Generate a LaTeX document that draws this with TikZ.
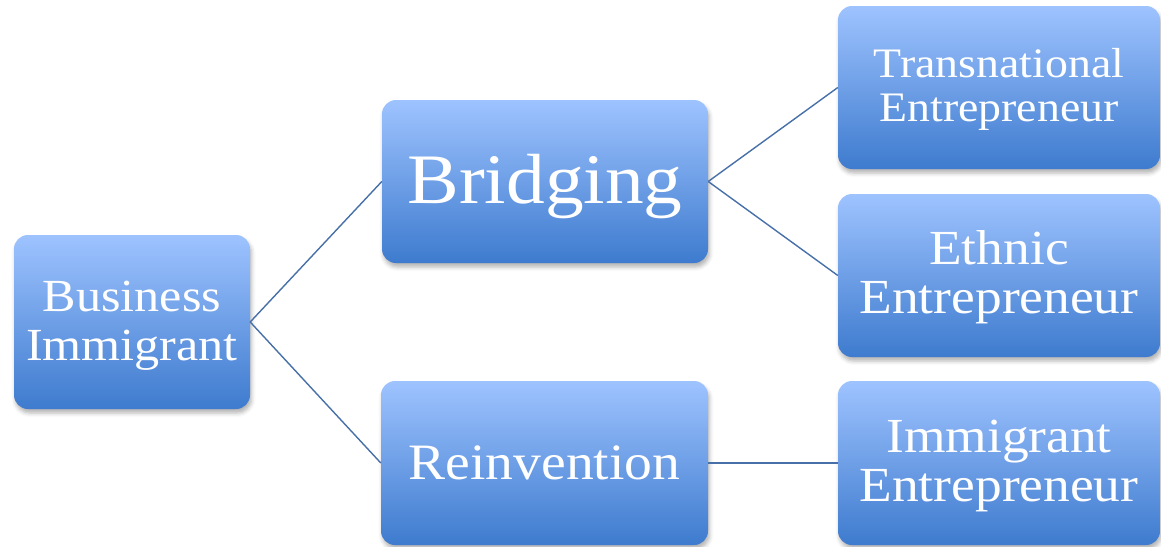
\documentclass[tikz,border=0pt]{standalone}
\usepackage{fontspec}
\setmainfont{Liberation Serif}[FakeStretch=1.09]
\usetikzlibrary{shadows.blur}
\definecolor{boxtop}{HTML}{9EC3FF}
\definecolor{boxbot}{HTML}{3E7BCE}
\definecolor{linkc}{HTML}{4770A8}
\tikzset{
  box/.style={rounded corners=14pt, top color=boxtop, bottom color=boxbot,
    draw=none, text=white, align=center, inner sep=0pt,
    blur shadow={shadow xshift=1.5pt, shadow yshift=-4pt, shadow blur radius=4pt, shadow opacity=30}},
  link/.style={draw=linkc, line width=1.4pt},
  % text height/depth are measured from the baseline of the last line
  bigtxt/.style={font=\fontsize{71}{76}\selectfont, text height=54pt, text depth=10pt},
  midtxt/.style={font=\fontsize{51}{54}\selectfont, text height=40pt, text depth=8pt},
  smalltxt/.style={font=\fontsize{42}{44.5}\selectfont, text height=78pt, text depth=10pt},
  leaftxt/.style={font=\fontsize{49}{49}\selectfont, text height=86pt, text depth=10pt},
  roottxt/.style={font=\fontsize{46}{49}\selectfont, text height=87pt, text depth=10pt},
}
\begin{document}
\begin{tikzpicture}[x=1pt,y=-1pt]
\useasboundingbox (0,0) rectangle (1161,546);
\node[box, roottxt, minimum width=236pt, minimum height=174pt] (bi) at (132,322) {Business\\Immigrant};
\node[box, bigtxt, minimum width=326pt, minimum height=163pt] (br) at (545,181.5) {Bridging};
\node[box, midtxt, minimum width=327pt, minimum height=164pt] (re) at (544.5,463) {Reinvention};
\node[box, smalltxt, minimum width=322pt, minimum height=163pt] (tr) at (999,87.5) {Transnational\\Entrepreneur};
\node[box, leaftxt, minimum width=322pt, minimum height=163pt] (et) at (999,275.5) {Ethnic\\Entrepreneur};
\node[box, leaftxt, minimum width=322pt, minimum height=164pt] (ie) at (999,463) {Immigrant\\Entrepreneur};
\draw[link] (bi.east) -- (br.west);
\draw[link] (bi.east) -- (re.west);
\draw[link] (br.east) -- (tr.west);
\draw[link] (br.east) -- (et.west);
\draw[link] (re.east) -- (ie.west);
\end{tikzpicture}
\end{document}
